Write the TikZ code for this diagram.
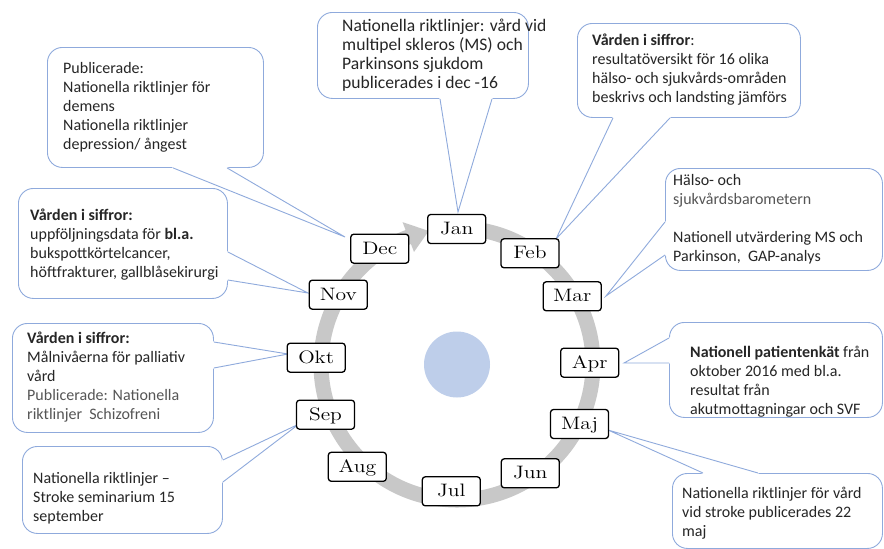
\documentclass[tikz,border=0pt]{standalone}
\usepackage{fontspec}
\usetikzlibrary{calc}
\newfontfamily\calfont{Carlito}
\newfontfamily\monthfont{lmroman12-regular.otf}[FakeStretch=1.2]
\definecolor{ringgray}{RGB}{200,200,200}
\definecolor{hubblue}{RGB}{190,206,234}
\definecolor{calline}{RGB}{143,170,220}
\definecolor{txtdark}{RGB}{38,38,38}
\definecolor{txtgray}{RGB}{85,85,85}
\tikzset{
  monthbox/.style={draw=black, line width=1.3pt, fill=white, rounded corners=3pt,
    minimum width=58pt, minimum height=29pt, inner sep=0pt,
    text height=14pt, text depth=3.4pt,
    font=\monthfont\fontsize{18}{20}\selectfont},
  callout/.style={draw=calline, line width=0.9pt, fill=white, rounded corners=15pt,
    inner sep=0pt, anchor=north west},
  calltext/.style={anchor=north west, inner sep=0pt, align=left, text=txtdark,
    font=\calfont\fontsize{16}{19}\selectfont,
    execute at begin node=\rule{0pt}{15pt}},
  bigtext/.style={font=\calfont\fontsize{17.6}{19}\selectfont},
  tailfill/.style={fill=white, draw=white, line width=1.6pt, line join=round},
  tailline/.style={draw=calline, line width=0.9pt},
  ring/.style={draw=ringgray, line width=15pt},
}
% tail of a callout: two base points on the box edge and the tip
\newcommand\calltail[3]{%
  \path[tailfill] (#1) -- (#3) -- (#2) -- cycle;
  \draw[tailline] (#1) -- (#3) -- (#2);}
\begin{document}
\begin{tikzpicture}[x=1pt,y=-1pt]
\useasboundingbox (0,0) rectangle (884,549);

% year ring with arrow head, and hub
\begin{scope}[shift={(457,364)}, yscale=-1]
  \draw[ring] (85:136) arc[start angle=85, end angle=-250, radius=136];
  \fill[ringgray] (111:120) -- (111:152) -- (102:136) -- cycle;
  \fill[hubblue] (0,-0.5) circle[radius=33];
\end{scope}

% callout boxes
\node[callout, minimum width=216pt, minimum height=120pt] (cdec) at (47,47) {};
\node[callout, minimum width=211pt, minimum height=86pt]  (cjan) at (317,12) {};
\node[callout, minimum width=223pt, minimum height=94pt]  (cfeb) at (577,23) {};
\node[callout, minimum width=217pt, minimum height=102pt] (cmar) at (665,168) {};
\node[callout, minimum width=209pt, minimum height=110pt] (cnov) at (18,188) {};
\node[callout, minimum width=201pt, minimum height=109pt] (cokt) at (12,323) {};
\node[callout, minimum width=200pt, minimum height=87pt]  (csep) at (22,446) {};
\node[callout, minimum width=213pt, minimum height=95pt]  (capr) at (669,322) {};
\node[callout, minimum width=210pt, minimum height=75pt]  (cmaj) at (672,473) {};

% tail tips next to the months
\coordinate (tdec) at (345,237);
\coordinate (tjan) at (458,212);
\coordinate (tfeb) at (556,239);
\coordinate (tmar) at (606,296);
\coordinate (tnov) at (308,293);
\coordinate (tokt) at (288,354);
\coordinate (tsep) at (299,424);
\coordinate (tapr) at (624,363);
\coordinate (tmaj) at (608,430);

% callout tails
\calltail{$(cdec.south west)+(126,0)$}{$(cdec.south west)+(180,0)$}{tdec}
\calltail{$(cjan.south west)+(123,0)$}{$(cjan.south west)+(175,0)$}{tjan}
\calltail{$(cfeb.south west)+(36,0)$}{$(cfeb.south west)+(93,0)$}{tfeb}
\calltail{$(cmar.north west)+(0,54)$}{$(cmar.north west)+(0,87)$}{tmar}
\calltail{$(cnov.north east)+(0,64)$}{$(cnov.north east)+(0,92)$}{tnov}
\calltail{$(cokt.north east)+(0,19)$}{$(cokt.north east)+(0,45)$}{tokt}
\calltail{$(csep.north east)+(0,14)$}{$(csep.north east)+(0,36)$}{tsep}
\calltail{$(capr.north west)+(0,16)$}{$(capr.north west)+(0,41)$}{tapr}
\calltail{$(cmaj.north west)+(31,0)$}{$(cmaj.north west)+(86,0)$}{tmaj}

% callout texts
\node[calltext] (xdec) at (63,62) {Publicerade:\\Nationella riktlinjer för\\demens\\Nationella riktlinjer\\depression/ ångest};
\node[calltext, bigtext] (xjan) at (342,19) {Nationella riktlinjer: vård vid\\multipel skleros (MS) och\\Parkinsons sjukdom\\publicerades i dec -16};
\node[calltext] (xfeb) at (592,34) {\textbf{Vården i siffror}:\\resultatöversikt för 16 olika\\hälso- och sjukvårds-områden\\beskrivs och landsting jämförs};
\node[calltext] (xmar) at (673,174) {Hälso- och\\{\color{txtgray}sjukvårdsbarometern}\\[19pt]Nationell utvärdering MS och\\Parkinson,\ \ GAP-analys};
\node[calltext] (xnov) at (30,209) {\textbf{Vården i siffror:}\\uppföljningsdata för \textbf{bl.a.}\\bukspottkörtelcancer,\\höftfrakturer, gallblåsekirurgi};
\node[calltext] (xokt) at (27,332) {\textbf{Vården i siffror:}\\Målnivåerna för palliativ\\vård\\{\color{txtgray}Publicerade: Nationella}\\{\color{txtgray}riktlinjer\ \ Schizofreni}};
\node[calltext] (xsep) at (33,472) {Nationella riktlinjer –\\Stroke seminarium 15\\september};
\node[calltext] (xapr) at (690,346) {\textbf{Nationell patientenkät} från\\oktober 2016 med bl.a.\\resultat från\\akutmottagningar och SVF};
\node[calltext] (xmaj) at (682,487) {Nationella riktlinjer för vård\\vid stroke publicerades 22\\maj};

% months
\node[monthbox] (jan) at (456.7,229)   {Jan};
\node[monthbox] (feb) at (530,253.3)   {Feb};
\node[monthbox] (mar) at (572.2,296.3) {Mar};
\node[monthbox] (apr) at (589.7,362.7) {Apr};
\node[monthbox] (maj) at (579.5,424)   {Maj};
\node[monthbox] (jun) at (530.3,473.3) {Jun};
\node[monthbox] (jul) at (451.3,491.3) {Jul};
\node[monthbox] (aug) at (357.3,466.8) {Aug};
\node[monthbox] (sep) at (325.5,414.7) {Sep};
\node[monthbox] (okt) at (316.2,357.7) {Okt};
\node[monthbox] (nov) at (338.3,294.7) {Nov};
\node[monthbox] (dec) at (379.8,248.7) {Dec};
\end{tikzpicture}
\end{document}
